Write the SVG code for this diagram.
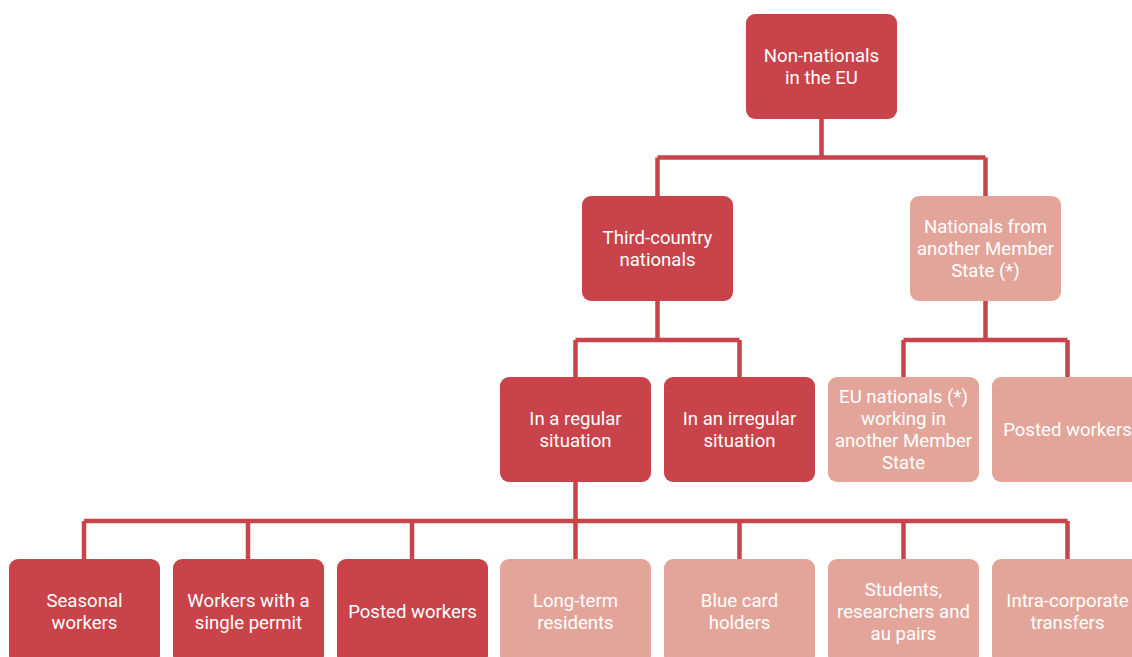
<svg xmlns="http://www.w3.org/2000/svg" width="1132" height="657" viewBox="0 0 1132 657">
<style>
.dark{fill:#C9434A}
.light{fill:#E3A59A}
.t{font-family:Roboto,"Liberation Sans",sans-serif;font-size:18.6px;fill:#ffffff;text-anchor:middle}
.c{fill:none;stroke:#C9434A;stroke-width:4.5}
</style>
<rect width="1132" height="657" fill="#ffffff"/>
<g id="connectors">
<path class="c" d="M821.5 119V157.5M657.5 157.5H985.5M657.5 157.5V196M985.5 157.5V196"/>
<path class="c" d="M657.5 300V340M575.5 340H739.5M575.5 340V377M739.5 340V377"/>
<path class="c" d="M985.5 300V340M903.5 340H1067.5M903.5 340V377M1067.5 340V377"/>
<path class="c" d="M575.5 482V521M84 521H1067.5M84 521V559M248 521V559M412 521V559M575.5 521V559M739.5 521V559M903.5 521V559M1067.5 521V559"/>
</g>
<g id="n-root"><rect class="dark" x="746" y="14" width="151" height="105" rx="9"/><text class="t" x="821.5" y="62">Non-nationals</text><text class="t" x="821.5" y="84">in the EU</text></g>
<g id="n-tcn"><rect class="dark" x="582" y="196" width="151" height="105" rx="9"/><text class="t" x="657.5" y="244">Third-country</text><text class="t" x="657.5" y="266">nationals</text></g>
<g id="n-nms"><rect class="light" x="910" y="196" width="151" height="105" rx="9"/><text class="t" x="985.5" y="233">Nationals from</text><text class="t" x="985.5" y="255">another Member</text><text class="t" x="985.5" y="277">State (*)</text></g>
<g id="n-regular"><rect class="dark" x="500" y="377" width="151" height="105" rx="9"/><text class="t" x="575.5" y="425">In a regular</text><text class="t" x="575.5" y="447">situation</text></g>
<g id="n-irregular"><rect class="dark" x="664" y="377" width="151" height="105" rx="9"/><text class="t" x="739.5" y="425">In an irregular</text><text class="t" x="739.5" y="447">situation</text></g>
<g id="n-eunat"><rect class="light" x="828" y="377" width="151" height="105" rx="9"/><text class="t" x="903.5" y="403">EU nationals (*)</text><text class="t" x="903.5" y="425">working in</text><text class="t" x="903.5" y="447">another Member</text><text class="t" x="903.5" y="469">State</text></g>
<g id="n-posted-eu"><rect class="light" x="992" y="377" width="151" height="105" rx="9"/><text class="t" x="1067.5" y="436">Posted workers</text></g>
<g id="n-seasonal"><rect class="dark" x="9" y="559" width="151" height="105" rx="9"/><text class="t" x="84.5" y="607">Seasonal</text><text class="t" x="84.5" y="629">workers</text></g>
<g id="n-single"><rect class="dark" x="173" y="559" width="151" height="105" rx="9"/><text class="t" x="248.5" y="607">Workers with a</text><text class="t" x="248.5" y="629">single permit</text></g>
<g id="n-posted"><rect class="dark" x="337" y="559" width="151" height="105" rx="9"/><text class="t" x="412.5" y="618">Posted workers</text></g>
<g id="n-longterm"><rect class="light" x="500" y="559" width="151" height="105" rx="9"/><text class="t" x="575.5" y="607">Long-term</text><text class="t" x="575.5" y="629">residents</text></g>
<g id="n-bluecard"><rect class="light" x="664" y="559" width="151" height="105" rx="9"/><text class="t" x="739.5" y="607">Blue card</text><text class="t" x="739.5" y="629">holders</text></g>
<g id="n-students"><rect class="light" x="828" y="559" width="151" height="105" rx="9"/><text class="t" x="903.5" y="596">Students,</text><text class="t" x="903.5" y="618">researchers and</text><text class="t" x="903.5" y="640">au pairs</text></g>
<g id="n-ict"><rect class="light" x="992" y="559" width="151" height="105" rx="9"/><text class="t" x="1067.5" y="607">Intra-corporate</text><text class="t" x="1067.5" y="629">transfers</text></g>
</svg>
